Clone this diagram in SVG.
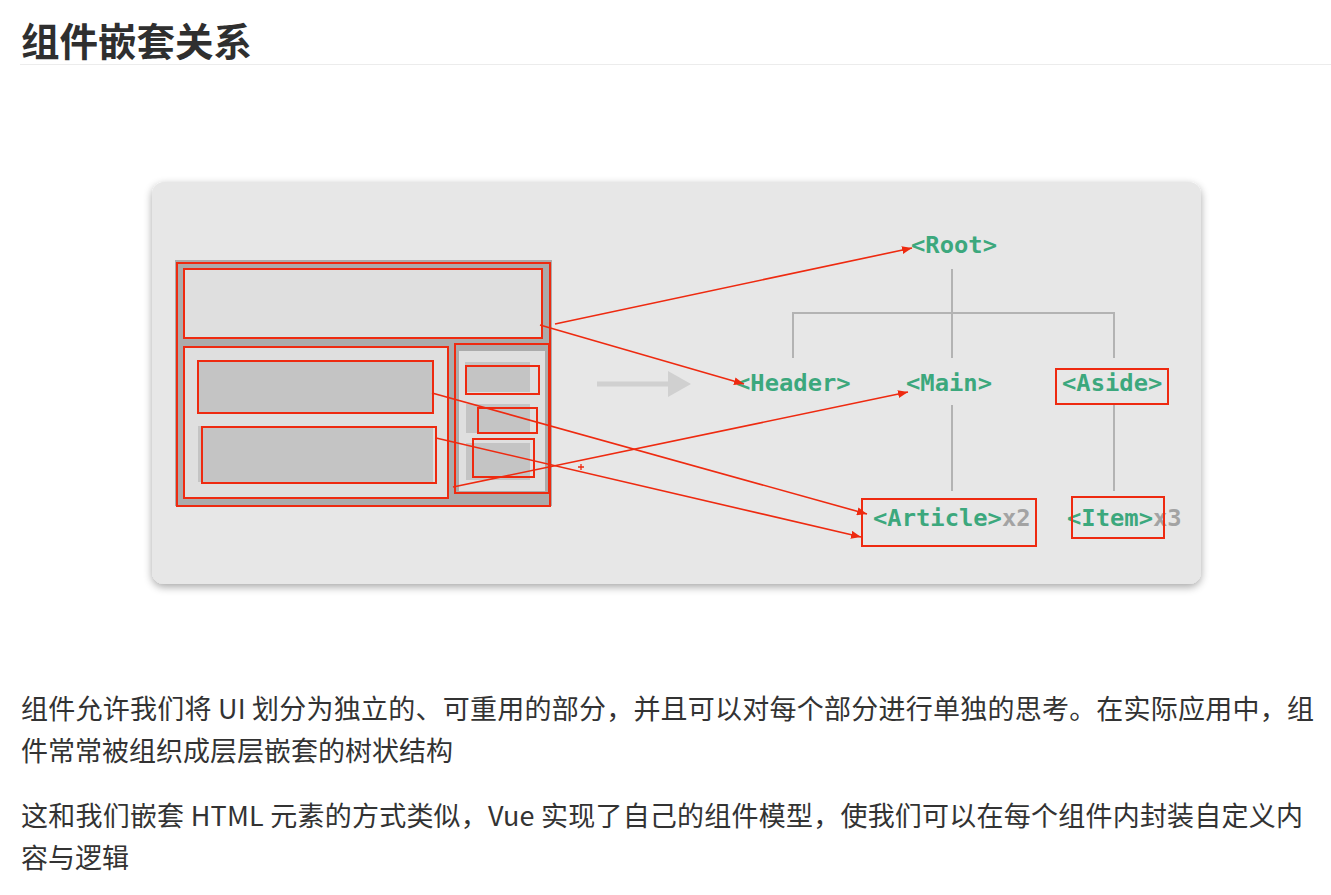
<svg xmlns="http://www.w3.org/2000/svg" width="1331" height="895" viewBox="0 0 1331 895">
  <defs>
    <filter id="shadow" x="-5%" y="-5%" width="110%" height="115%">
      <feGaussianBlur in="SourceAlpha" stdDeviation="4"/>
      <feOffset dx="0" dy="3" result="b"/>
      <feComponentTransfer><feFuncA type="linear" slope="0.35"/></feComponentTransfer>
      <feMerge><feMergeNode/><feMergeNode in="SourceGraphic"/></feMerge>
    </filter>
    <marker id="ah" viewBox="0 0 10 8" refX="10" refY="4" markerWidth="10" markerHeight="8" markerUnits="userSpaceOnUse" orient="auto">
      <path d="M0,0 L10,4 L0,8 Z" fill="#ee2a10"/>
    </marker>
    <style>
      .title{font-family:"Noto Sans CJK SC","Noto Sans",sans-serif;font-weight:700;font-size:38.5px;fill:#2f2f2f}
      .para{font-family:"Noto Sans CJK SC","Noto Sans",sans-serif;font-size:27px;fill:#333}
      .tag{font-family:"DejaVu Sans Mono","Liberation Mono",monospace;font-weight:700;font-size:23.8px;fill:#3ca87d}
      .mult{fill:#a3a3a3}
      .red{fill:none;stroke:#ee2a10;stroke-width:2}
      .tree{fill:none;stroke:#b3b3b3;stroke-width:2}
      .conn{fill:none;stroke:#ee2a10;stroke-width:1.6}
      .lite{fill:#dfdfdf}
      .blk{fill:#c4c4c4}
    </style>
  </defs>
  <rect width="1331" height="895" fill="#ffffff"/>
  <g id="heading">
    <text class="title" x="21" y="56">组件嵌套关系</text>
    <line x1="20" y1="64.5" x2="1331" y2="64.5" stroke="#ececec" stroke-width="1"/>
  </g>
  <rect id="panel" x="152" y="182" width="1049" height="402" rx="12" fill="#e7e7e7" filter="url(#shadow)"/>

  <g id="layout">
    <g id="box-root">
      <rect x="175" y="260" width="377" height="246" fill="#ababab"/>
      <rect class="red" x="177" y="263" width="373" height="243"/>
    </g>
    <g id="box-header">
      <rect class="lite" x="184" y="269" width="358" height="69"/>
      <rect class="red" x="184" y="269" width="358" height="69"/>
    </g>
    <g id="box-main">
      <rect class="lite" x="184" y="347" width="264" height="151"/>
      <rect class="red" x="184" y="347" width="264" height="151"/>
    </g>
    <g id="box-article1">
      <rect class="blk" x="198" y="361" width="235" height="52"/>
      <rect class="red" x="198" y="361" width="235" height="52"/>
    </g>
    <g id="box-article2">
      <rect class="blk" x="198" y="426" width="235" height="56"/>
      <rect class="red" x="202" y="427" width="234" height="56"/>
    </g>
    <g id="box-aside">
      <rect class="lite" x="459" y="351" width="86" height="140"/>
      <rect class="red" x="455" y="344" width="94" height="149"/>
    </g>
    <g id="box-item1">
      <rect class="blk" x="465" y="362" width="65" height="30"/>
      <rect class="red" x="466" y="366" width="73" height="28"/>
    </g>
    <g id="box-item2">
      <rect class="blk" x="466" y="404" width="64" height="29"/>
      <rect class="red" x="478" y="408" width="59" height="25"/>
    </g>
    <g id="box-item3">
      <rect class="blk" x="466" y="443" width="64" height="37"/>
      <rect class="red" x="473" y="439" width="61" height="38"/>
    </g>
  </g>

  <g id="big-arrow">
    <line x1="597" y1="384" x2="670" y2="384" stroke="#d0d0d0" stroke-width="5"/>
    <polygon points="668,371 691,384 668,397" fill="#d0d0d0"/>
  </g>

  <g id="tree-lines">
    <path class="tree" d="M952,269 V313 M793,358 V313 H1114 V358 M952,313 V358 M952,405 V491 M1114,405 V491"/>
  </g>

  <g id="node-root"><text class="tag" x="911" y="253">&lt;Root&gt;</text></g>
  <g id="node-header"><text class="tag" x="736" y="391">&lt;Header&gt;</text></g>
  <g id="node-main"><text class="tag" x="906" y="391">&lt;Main&gt;</text></g>
  <g id="node-aside">
    <text class="tag" x="1062" y="391">&lt;Aside&gt;</text>
    <rect class="red" x="1056" y="369" width="112" height="35"/>
  </g>
  <g id="node-article">
    <text class="tag" x="873" y="526">&lt;Article&gt;<tspan class="mult">x2</tspan></text>
    <rect class="red" x="862" y="499" width="174" height="47"/>
  </g>
  <g id="node-item">
    <text class="tag" x="1067" y="526">&lt;Item&gt;<tspan class="mult">x3</tspan></text>
    <rect class="red" x="1072" y="497" width="92" height="41"/>
  </g>

  <g id="connectors">
    <line class="conn" x1="555" y1="324" x2="912" y2="248" marker-end="url(#ah)"/>
    <line class="conn" x1="540" y1="325" x2="744" y2="384" marker-end="url(#ah)"/>
    <line class="conn" x1="453" y1="487" x2="908" y2="392" marker-end="url(#ah)"/>
    <line class="conn" x1="432" y1="393" x2="867" y2="514" marker-end="url(#ah)"/>
    <line class="conn" x1="436" y1="438" x2="861" y2="537" marker-end="url(#ah)"/>
    <path d="M578,467 H584 M581,464 V470" stroke="#ee2a10" stroke-width="1.3" fill="none"/>
  </g>

  <g id="body-text">
    <text class="para" x="21" y="719" textLength="1293" lengthAdjust="spacing">组件允许我们将 UI 划分为独立的、可重用的部分，并且可以对每个部分进行单独的思考。在实际应用中，组</text>
    <text class="para" x="21" y="761">件常常被组织成层层嵌套的树状结构</text>
    <text class="para" x="21" y="826" textLength="1282" lengthAdjust="spacing">这和我们嵌套 HTML 元素的方式类似，Vue 实现了自己的组件模型，使我们可以在每个组件内封装自定义内</text>
    <text class="para" x="21" y="868">容与逻辑</text>
  </g>
</svg>
